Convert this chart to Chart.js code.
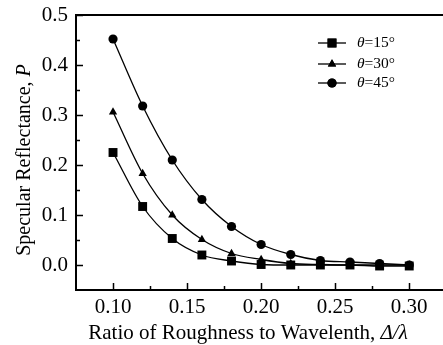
<!DOCTYPE html>
<html>
<head>
<meta charset="utf-8">
<script src="https://cdn.jsdelivr.net/npm/chart.js@4.4.1/dist/chart.umd.min.js"></script>
<style>
    html, body { margin: 0; padding: 0; background: #fff; overflow: hidden; }
    #wrap { width: 443px; height: 345px; }
</style>
</head>
<body>
<div id="wrap"><canvas id="chart"></canvas></div>
<script>
// Ratio of roughness to wavelength
let xValues = [0.10, 0.12, 0.14, 0.16, 0.18, 0.20, 0.22, 0.24, 0.26, 0.28, 0.30]

// Specular reflectance for each incidence angle
let theta15 = [0.225, 0.117, 0.053, 0.020, 0.008, 0.001, 0.000, 0.000, 0.000, -0.002, -0.002]
let theta30 = [0.306, 0.183, 0.100, 0.051, 0.023, 0.011, 0.003, 0.001, 0.000, 0.000, 0.000]
let theta45 = [0.452, 0.318, 0.210, 0.131, 0.077, 0.041, 0.021, 0.009, 0.006, 0.003, 0.000]

let seriesNames = ['15°', '30°', '45°']
let seriesMarkers = ['rect', 'triangle', 'circle']

// Ticks
let xTicks = [0.10, 0.15, 0.20, 0.25, 0.30]
let xMinorTicks = [0.125, 0.175, 0.225, 0.275]
let yTicks = [0.0, 0.1, 0.2, 0.3, 0.4, 0.5]
let yMinorTicks = [0.05, 0.15, 0.25, 0.35, 0.45]

const FONT = "'Liberation Serif', 'Times New Roman', serif"

function makeDataset(values, idx) {
    return {
        label: seriesNames[idx],
        data: xValues.map((x, i) => ({ x: x, y: values[i] })),
        borderColor: '#000',
        backgroundColor: '#000',
        borderWidth: 1.3,
        pointStyle: seriesMarkers[idx],
        pointRadius: idx === 0 ? 6.3 : (idx === 1 ? 4.8 : 4.6),
        pointBorderWidth: 0,
        cubicInterpolationMode: 'monotone',
        fill: false
    }
}

// Draw mixed normal / italic text pieces, starting at x
function drawPieces(ctx, pieces, x, y, size) {
    let cx = x
    pieces.forEach(p => {
        ctx.font = `${p.italic ? 'italic ' : ''}${size}px ${FONT}`
        ctx.fillText(p.text, cx, y)
        cx += ctx.measureText(p.text).width
    })
    return cx
}

function piecesWidth(ctx, pieces, size) {
    let w = 0
    pieces.forEach(p => {
        ctx.font = `${p.italic ? 'italic ' : ''}${size}px ${FONT}`
        w += ctx.measureText(p.text).width
    })
    return w
}

const decorPlugin = {
    id: 'decor',
    afterDraw: (chart) => {
        const { ctx, chartArea } = chart
        const xs = chart.scales.x
        const ys = chart.scales.y
        ctx.save()
        ctx.strokeStyle = '#000'
        ctx.fillStyle = '#000'

        // frame: left, bottom, top
        ctx.lineWidth = 2
        ctx.beginPath()
        ctx.moveTo(chart.width, chartArea.top)
        ctx.lineTo(chartArea.left, chartArea.top)
        ctx.lineTo(chartArea.left, chartArea.bottom)
        ctx.lineTo(chart.width, chartArea.bottom)
        ctx.stroke()

        // inner ticks
        ctx.lineWidth = 1.5
        ctx.beginPath()
        xTicks.forEach(v => {
            let px = Math.round(xs.getPixelForValue(v)) + 0.5
            ctx.moveTo(px, chartArea.bottom)
            ctx.lineTo(px, chartArea.bottom - 7)
        })
        xMinorTicks.forEach(v => {
            let px = Math.round(xs.getPixelForValue(v)) + 0.5
            ctx.moveTo(px, chartArea.bottom)
            ctx.lineTo(px, chartArea.bottom - 4)
        })
        yTicks.forEach(v => {
            let py = Math.round(ys.getPixelForValue(v)) + 0.5
            ctx.moveTo(chartArea.left, py)
            ctx.lineTo(chartArea.left + 7, py)
        })
        yMinorTicks.forEach(v => {
            let py = Math.round(ys.getPixelForValue(v)) + 0.5
            ctx.moveTo(chartArea.left, py)
            ctx.lineTo(chartArea.left + 4, py)
        })
        ctx.stroke()

        // x axis title
        ctx.textBaseline = 'middle'
        ctx.textAlign = 'left'
        let xTitle = [
            { text: 'Ratio of Roughness to Wavelenth, ', italic: false },
            { text: 'Δ/λ', italic: true }
        ]
        let w = piecesWidth(ctx, xTitle, 21)
        drawPieces(ctx, xTitle, chartArea.left + 172 - w / 2, 333, 21)

        // y axis title
        let yTitle = [
            { text: 'Specular Reflectance, ', italic: false },
            { text: 'P', italic: true }
        ]
        ctx.save()
        ctx.translate(25, 160)
        ctx.rotate(-Math.PI / 2)
        w = piecesWidth(ctx, yTitle, 20)
        drawPieces(ctx, yTitle, -w / 2, 0, 20)
        ctx.restore()

        // legend
        const rows = [43, 64, 83]
        chart.data.datasets.forEach((ds, i) => {
            let y = rows[i]
            ctx.lineWidth = 1.3
            ctx.beginPath()
            ctx.moveTo(318, y)
            ctx.lineTo(346, y)
            ctx.stroke()
            Chart.helpers.drawPoint(ctx, {
                pointStyle: ds.pointStyle,
                radius: ds.pointRadius,
                borderWidth: 0,
                rotation: 0
            }, 332, y)
            ctx.fill()
            drawPieces(ctx, [
                { text: 'θ', italic: true },
                { text: '=' + ds.label, italic: false }
            ], 357, y, 15.5)
        })
        ctx.restore()
    }
}

const ctx = document.getElementById('chart').getContext('2d')
new Chart(ctx, {
    type: 'line',
    data: {
        datasets: [
            makeDataset(theta15, 0),
            makeDataset(theta30, 1),
            makeDataset(theta45, 2)
        ]
    },
    options: {
        responsive: true,
        maintainAspectRatio: false,
        animation: false,
        layout: { autoPadding: false, padding: { top: 15, right: 0, left: 0, bottom: 0 } },
        plugins: {
            legend: { display: false },
            tooltip: { enabled: false }
        },
        scales: {
            x: {
                type: 'linear',
                min: 0.075,
                max: 0.3228,
                grid: { display: false, drawTicks: false },
                border: { display: false },
                afterBuildTicks: (scale) => {
                    scale.ticks = xTicks.map(v => ({ value: v }))
                },
                afterFit: (scale) => {
                    scale.height = 55
                    scale.paddingLeft = 0
                    scale.paddingRight = 0
                },
                ticks: {
                    color: '#000',
                    padding: 5,
                    maxRotation: 0,
                    font: { family: FONT, size: 21 },
                    callback: (v) => v.toFixed(2)
                }
            },
            y: {
                min: -0.05,
                max: 0.5,
                grid: { display: false, drawTicks: false },
                border: { display: false },
                afterBuildTicks: (scale) => {
                    scale.ticks = yTicks.map(v => ({ value: v }))
                },
                afterFit: (scale) => {
                    scale.width = 76
                    scale.paddingTop = 0
                    scale.paddingBottom = 0
                },
                ticks: {
                    color: '#000',
                    padding: 8,
                    font: { family: FONT, size: 21 },
                    callback: (v) => v.toFixed(1)
                }
            }
        }
    },
    plugins: [decorPlugin]
})
</script>
</body>
</html>
